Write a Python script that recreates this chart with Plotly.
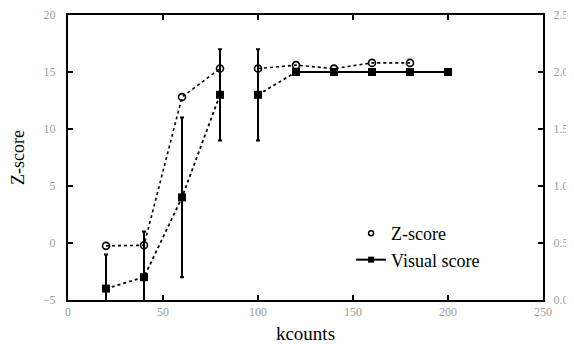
import plotly.graph_objects as go

kcounts = [20, 40, 60, 80, 100, 120, 140, 160, 180, 200]
z_score = [-0.25, -0.2, 12.8, 15.3, 15.3, 15.6, 15.3, 15.8, 15.8, 15.0]
visual_score = [0.1, 0.2, 0.9, 1.8, 1.8, 2.0, 2.0, 2.0, 2.0, 2.0]
visual_err = [0.3, 0.4, 0.7, 0.4, 0.4, 0, 0, 0, 0, 0]

x_ticks = [0, 50, 100, 150, 200, 250]
y_ticks = [-5, 0, 5, 10, 15, 20]
y2_ticks = [0.0, 0.5, 1.0, 1.5, 2.0, 2.5]

FONT = "Liberation Serif"
GRAY = "#9a9a9a"

fig = go.Figure()

# Z-score dotted line (gap between 80 and 100)
zx = kcounts[:4] + [None] + kcounts[4:9]
zy = z_score[:4] + [None] + z_score[4:9]
fig.add_trace(go.Scatter(x=zx, y=zy, mode="lines", line=dict(color="black", width=1.6, dash="dot"),
                         showlegend=False, hoverinfo="skip", connectgaps=False))
fig.add_trace(go.Scatter(x=kcounts[:9], y=z_score[:9], mode="markers", showlegend=False,
                         marker=dict(symbol="circle-open", size=7, color="black", line=dict(width=1.6))))

# Visual score: dotted segments then solid
vx = kcounts[:4] + [None] + kcounts[4:6]
vy = visual_score[:4] + [None] + visual_score[4:6]
fig.add_trace(go.Scatter(x=vx, y=vy, yaxis="y2", mode="lines",
                         line=dict(color="black", width=1.8, dash="dot"),
                         showlegend=False, hoverinfo="skip", connectgaps=False))
fig.add_trace(go.Scatter(x=kcounts[5:], y=visual_score[5:], yaxis="y2", mode="lines",
                         line=dict(color="black", width=2), showlegend=False, hoverinfo="skip"))
fig.add_trace(go.Scatter(x=kcounts, y=visual_score, yaxis="y2", mode="markers", showlegend=False,
                         marker=dict(symbol="square", size=8, color="black"),
                         error_y=dict(type="data", array=visual_err, visible=True, color="black",
                                      thickness=2, width=2)))
# legend entries
fig.add_trace(go.Scatter(x=[None], y=[None], mode="markers", name="Z-score",
                         marker=dict(symbol="circle-open", size=5, color="black", line=dict(width=1.5))))
fig.add_trace(go.Scatter(x=[None], y=[None], yaxis="y2", mode="lines+markers", name="Visual score",
                         line=dict(color="black", width=2),
                         marker=dict(symbol="square", size=6, color="black")))

axis_common = dict(showgrid=False, zeroline=False, showline=True, linecolor="black", linewidth=2,
                   ticks="inside", ticklen=5, tickwidth=2, tickcolor="black", automargin=False,
                   tickfont=dict(family=FONT, size=12, color=GRAY))

fig.update_layout(
    width=574, height=344,
    margin=dict(l=60, r=39, t=7, b=52, autoexpand=False),
    paper_bgcolor="white", plot_bgcolor="white",
    font=dict(family=FONT, color="black"),
    xaxis=dict(range=[0, 250], tickvals=x_ticks, mirror="ticks",
               title=dict(text="kcounts", font=dict(family=FONT, size=19, color="black"), standoff=8),
               **axis_common),
    yaxis=dict(range=[-5, 20], tickvals=y_ticks, mirror=True, ticklabelstandoff=8,
               title=dict(text="Z-score", font=dict(family=FONT, size=18, color="black"), standoff=15),
               **axis_common),
    yaxis2=dict(range=[0, 2.5], tickvals=y2_ticks, tickformat=".1f", overlaying="y", side="right",
                ticklabelstandoff=6, **axis_common),
    legend=dict(x=0.596, y=0.298, xanchor="left", yanchor="top", bgcolor="rgba(0,0,0,0)",
                font=dict(family=FONT, size=18, color="black"), itemwidth=30, tracegroupgap=0),
)

fig.write_html("out.html")
